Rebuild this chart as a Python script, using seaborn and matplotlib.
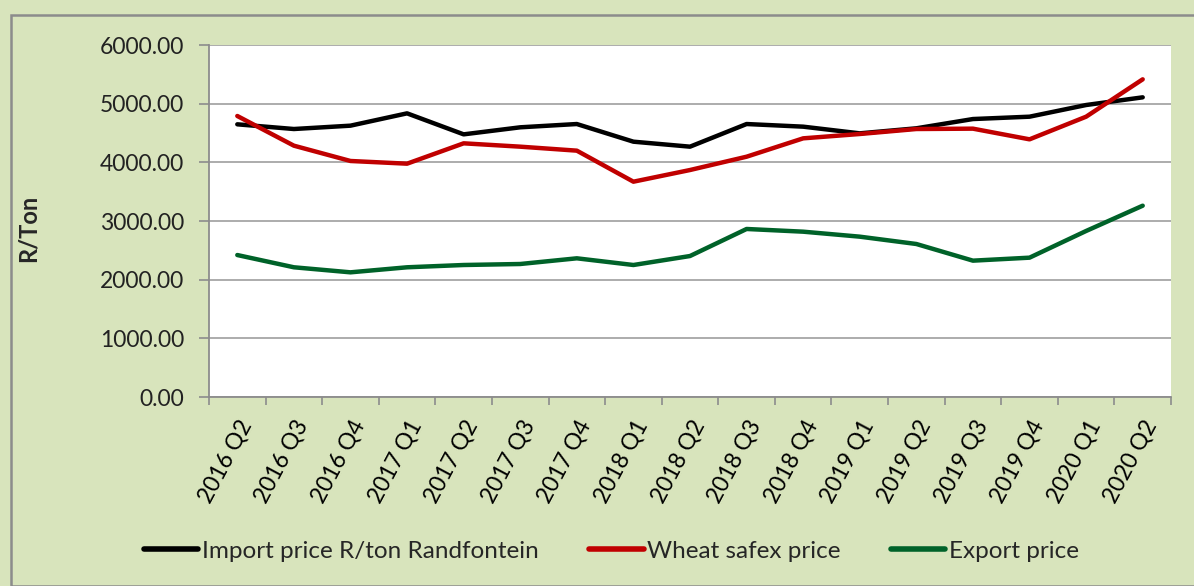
import matplotlib
matplotlib.use("Agg")
import matplotlib.pyplot as plt
import seaborn as sns
import pandas as pd
from matplotlib.patches import Rectangle
from matplotlib.ticker import FixedLocator, FuncFormatter

quarters = ["2016 Q2", "2016 Q3", "2016 Q4", "2017 Q1", "2017 Q2", "2017 Q3", "2017 Q4",
            "2018 Q1", "2018 Q2", "2018 Q3", "2018 Q4", "2019 Q1", "2019 Q2", "2019 Q3",
            "2019 Q4", "2020 Q1", "2020 Q2"]
import_price = [4648, 4568, 4625, 4835, 4477, 4597, 4653, 4352, 4267, 4653, 4608, 4494,
                4580, 4738, 4778, 4977, 5108]
safex_price = [4790, 4284, 4023, 3977, 4324, 4267, 4199, 3670, 3869, 4096, 4409, 4483,
               4568, 4574, 4392, 4778, 5415]
export_price = [2420, 2211, 2125, 2211, 2250, 2267, 2364, 2250, 2403, 2864, 2818, 2733,
                2608, 2324, 2375, 2830, 3261]
series_names = ["Import price R/ton Randfontein", "Wheat safex price", "Export price"]
colors = ["#000000", "#C00000", "#006229"]

df = pd.concat([
    pd.DataFrame({"Quarter": quarters, "Price": vals, "Series": name})
    for name, vals in zip(series_names, [import_price, safex_price, export_price])
])

sns.set_theme(style="white")
plt.rcParams["font.family"] = ["Lato", "DejaVu Sans"]

bg = "#D8E4BC"
fig = plt.figure(figsize=(11.94, 5.86), dpi=100, facecolor=bg)
# outer chart border
fig.patches.append(Rectangle((11 / 1194, 0), 1.0, (586 - 15) / 586, transform=fig.transFigure,
                             fill=False, edgecolor="#8C8C8C", linewidth=1.8, zorder=0))

ax = fig.add_axes([209 / 1194, 1 - 397 / 586, (1171 - 209) / 1194, (397 - 45) / 586])
ax.set_facecolor("white")

sns.lineplot(data=df, x="Quarter", y="Price", hue="Series", palette=colors,
             linewidth=3.2, ax=ax, legend=False, sort=False)

n = len(quarters)
ax.set_xlim(-0.5, n - 0.5)
ax.set_ylim(0, 6000)
ax.set_yticks(range(0, 6001, 1000))
ax.yaxis.set_major_formatter(FuncFormatter(lambda v, p: f"{v:.2f}"))
ax.yaxis.grid(True, color="#A6A6A6", linewidth=1.3)
ax.set_axisbelow(True)

ax.set_xticks(range(n))
ax.set_xticklabels(quarters, rotation=62, ha="right", va="top", rotation_mode="anchor")
ax.xaxis.set_minor_locator(FixedLocator([i - 0.5 for i in range(n + 1)]))
ax.tick_params(axis="x", which="major", length=0, pad=14, labelsize=16.5, labelcolor="black")
ax.tick_params(axis="x", which="minor", length=6, width=1.2, color="#8C8C8C", direction="out", bottom=True)
ax.tick_params(axis="y", which="major", length=7, width=1.2, color="#8C8C8C", direction="out",
               left=True, labelsize=16.5, labelcolor="#222222", pad=11)

for s in ["top", "right"]:
    ax.spines[s].set_visible(False)
for s in ["left", "bottom"]:
    ax.spines[s].set_color("#8C8C8C")
    ax.spines[s].set_linewidth(1.3)

ax.set_xlabel("")
ax.set_ylabel("R/Ton", fontsize=17, fontweight="bold")
ax.yaxis.set_label_coords(40 / 1194, 1 - 228 / 586, transform=fig.transFigure)

handles = [plt.Line2D([], [], color=c, linewidth=4) for c in colors]
fig.legend(handles, series_names, loc="center", bbox_to_anchor=(0.512, 1 - 551 / 586), ncol=3,
           frameon=False, fontsize=17.5, handlelength=2.26, handletextpad=0.15, columnspacing=2.05)

fig.savefig("out.png", dpi=100, facecolor=bg)
